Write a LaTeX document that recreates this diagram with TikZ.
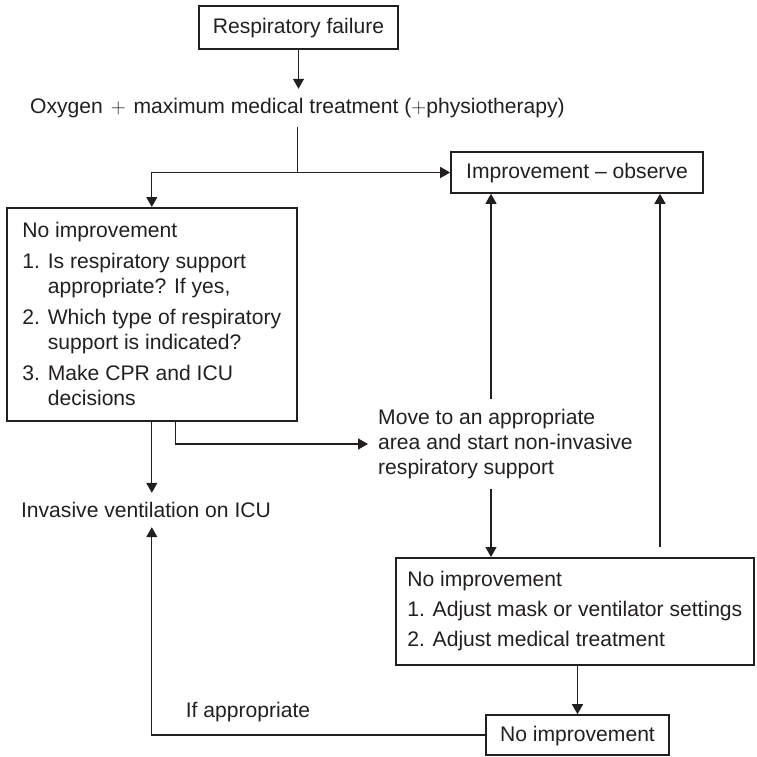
\documentclass[tikz,border=0pt]{standalone}
\usepackage{fontspec}
\setmainfont{Liberation Sans}
\usetikzlibrary{arrows.meta,calc}
\definecolor{ink}{HTML}{231F20}
\begin{document}
\begin{tikzpicture}[x=1pt,y=-1pt,
  every node/.style={font=\fontsize{21.1}{25}\selectfont, text=ink},
  box/.style={draw=ink, line width=1.6pt, inner sep=0pt, align=center},
  lbl/.style={inner sep=0pt},
  arr/.style={draw=ink, line width=1.2pt, -{Triangle[length=10pt,width=11pt]}},
  ln/.style={draw=ink, line width=1.2pt}]
\useasboundingbox (0,0) rectangle (756,757);
\node[box, minimum width=199pt, minimum height=43pt, text height=15pt, text depth=3pt] (rf) at (298.5,27.5) {Respiratory failure};
\node[lbl, minimum height=38pt] (oxy) at (297.5,108) {Oxygen \hspace{2pt}${+}$\hspace{2pt} maximum medical treatment (${+}$physiotherapy)};
\node[box, minimum width=252pt, minimum height=41pt, text height=15pt, text depth=3pt] (imp) at (577,172.5) {Improvement – observe};
\node[box, anchor=north west, minimum width=290pt, minimum height=213pt, align=left] (big) at (6,207)
  {No improvement\\[6pt]
   1. Is respiratory support\\
   \phantom{1. }appropriate? If yes,\\[6pt]
   2. Which type of respiratory\\
   \phantom{2. }support is indicated?\\[6pt]
   3. Make CPR and ICU\\
   \phantom{3. }decisions};
\node[lbl, anchor=west, align=left, inner xsep=10pt, minimum height=90pt] (mv) at (368,444)
  {Move to an appropriate\\area and start non-invasive\\respiratory support};
\node[lbl, minimum height=34pt] (inv) at (146,510) {Invasive ventilation on ICU};
\node[box, anchor=north west, minimum width=358pt, minimum height=107pt, align=left] (nm) at (395,557)
  {No improvement\\[5pt]1. Adjust mask or ventilator settings\\[5pt]2. Adjust medical treatment};
\node[box, minimum width=183pt, minimum height=40pt, text height=15pt, text depth=3pt] (nl) at (577.5,735) {No improvement};
\node[lbl] (ifa) at (248,712) {If appropriate};

\coordinate (xa) at (491,0);
\coordinate (xb) at (660,0);
\coordinate (j) at (oxy.south |- imp.west);
\coordinate (rb) at ($(xb |- nm.north)+(0,-10)$);

\draw[arr] (rf.south) -- (rf.south |- oxy.north);
\draw[ln] (oxy.south) -- (j);
\draw[arr] (j) -- (imp.west);
\draw[arr] (j) -| (big.north);
\draw[arr] (big.south) -- (big.south |- inv.north);
\draw[arr] ([xshift=24pt]big.south) |- (mv.west);
\draw[arr] (xa |- mv.north) -- (xa |- imp.south);
\draw[arr] (xa |- mv.south) -- (xa |- nm.north);
\draw[arr] (rb) -- (xb |- imp.south);
\draw[arr] (nl.north |- nm.south) -- (nl.north);
\draw[arr] (nl.west) -| (big.south |- inv.south);
\end{tikzpicture}
\end{document}
